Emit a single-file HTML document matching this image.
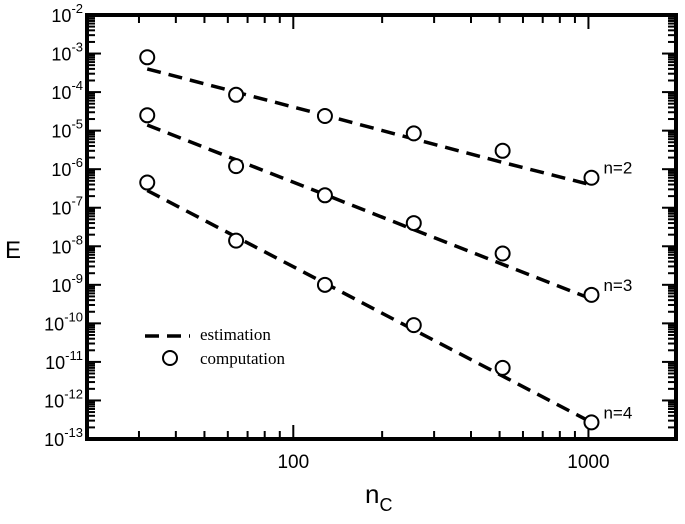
<!DOCTYPE html>
<html><head><meta charset="utf-8"><style>body{margin:0;background:#fff}svg{display:block;font-family:"Liberation Sans",Arial,sans-serif}</style></head>
<body>
<svg id="c" width="685" height="524" viewBox="0 0 685 524" xmlns="http://www.w3.org/2000/svg"></svg>
<script>
const xs = [32, 64, 128, 256, 512, 1024];
const comp2 = [8e-4, 8.5e-5, 2.4e-5, 8.5e-6, 3e-6, 6e-7];
const comp3 = [2.5e-5, 1.2e-6, 2.1e-7, 4e-8, 6.5e-9, 5.5e-10];
const comp4 = [4.5e-7, 1.4e-8, 1e-9, 9e-11, 7e-12, 2.7e-13];
const est2 = [4e-4, 1e-4, 2.5e-5, 6.1e-6, 1.5e-6, 3.9e-7];
const est3 = [1.4e-5, 1.75e-6, 2.2e-7, 2.7e-8, 3.4e-9, 4.3e-10];
const est4 = [2.8e-7, 1.75e-8, 1.1e-9, 6.8e-11, 4.3e-12, 2.7e-13];
const seriesLabels = ["n=2", "n=3", "n=4"];
const yExps = [-2,-3,-4,-5,-6,-7,-8,-9,-10,-11,-12,-13];
const xTickLabels = [100, 1000];

const L=87,R=676,T=15,B=439;
const lx0=Math.log10(20), lx1=Math.log10(1980);
const X=v=>L+(Math.log10(v)-lx0)/(lx1-lx0)*(R-L);
const Y=v=>T+(-2-Math.log10(v))/11*(B-T);
const svg=document.getElementById('c');
const NS='http://www.w3.org/2000/svg';
function mk(tag,attrs,parent){const e=document.createElementNS(NS,tag);for(const k in attrs)e.setAttribute(k,attrs[k]);(parent||svg).appendChild(e);return e;}

const tg=mk('g',{stroke:'#000','stroke-width':2});


for(let e=-13;e<=-2;e++){
  for(let m=1;m<10;m++){
    if(e===-2&&m>1)break;
    const y=Y(m*Math.pow(10,e));const len=m===1?14:8;
    mk('line',{x1:L,x2:L+len,y1:y,y2:y},tg);mk('line',{x1:R,x2:R-len,y1:y,y2:y},tg);
  }
}
for(let e=1;e<=3;e++){for(let m=1;m<10;m++){const v=m*Math.pow(10,e);if(v<=20||v>=1980)continue;
  const x=X(v);const len=m===1?14:8;
  mk('line',{x1:x,x2:x,y1:B,y2:B-len},tg);mk('line',{x1:x,x2:x,y1:T,y2:T+len},tg);}}
const fr=mk('rect',{x:L,y:T,width:R-L,height:B-T,fill:'none',stroke:'#000','stroke-width':4});



yExps.forEach(e=>{
  const t=mk('text',{x:L-4,y:Y(Math.pow(10,e))+7,'text-anchor':'end','font-size':18});
  
  
  t.textContent='10';
  const s=mk('tspan',{'font-size':13,dy:-9},t);s.textContent=String(e);
});
xTickLabels.forEach(v=>{
  const t=mk('text',{x:X(v),y:B+29,'text-anchor':'middle','font-size':19});
  
  
  t.textContent=String(v);
});

const ests=[est2,est3,est4], comps=[comp2,comp3,comp4];
ests.forEach((s,i)=>{
  const p=mk('polyline',{points:xs.map((x,j)=>X(x)+','+Y(s[j])).join(' '),fill:'none',stroke:'#000','stroke-width':3.5,'stroke-dasharray':'14,8'});
  
  
});
comps.forEach((s,i)=>{
  xs.forEach((x,j)=>{
    const c=mk('circle',{cx:X(x),cy:Y(s[j]),r:7,fill:'#fff',stroke:'#000','stroke-width':2});
    
    
  });
  const t=mk('text',{x:X(xs[5])+12,y:Y(s[5])-4,'font-size':17});
  
  
  t.textContent=seriesLabels[i];
});

const lg=mk('g',{});


mk('line',{x1:145,x2:190,y1:336,y2:336,stroke:'#000','stroke-width':3.5,'stroke-dasharray':'14,8'},lg);
mk('circle',{cx:170,cy:358,r:7,fill:'#fff',stroke:'#000','stroke-width':2},lg);
const l1=mk('text',{x:200,y:340,'font-size':17,'font-family':'Liberation Serif,serif'},lg);l1.textContent='estimation';
const l2=mk('text',{x:200,y:364,'font-size':17,'font-family':'Liberation Serif,serif'},lg);l2.textContent='computation';

const yl=mk('text',{x:13,y:258,'font-size':24,'text-anchor':'middle'});


yl.textContent='E';
const xl=mk('text',{x:365,y:503,'font-size':26});


xl.textContent='n';
const sub=mk('tspan',{'font-size':18,dy:8},xl);sub.textContent='C';
</script>
</body></html>
